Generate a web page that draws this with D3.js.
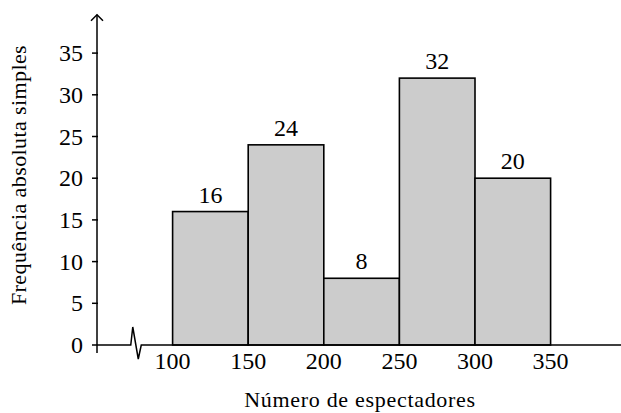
<!DOCTYPE html>
<html><head><meta charset="utf-8">
<script src="https://cdn.jsdelivr.net/npm/d3@7"></script>
<style>body{margin:0;background:#fff}svg{display:block}text{font-family:"Liberation Serif","Times New Roman",serif;fill:#000}</style>
</head><body><svg id="c" width="621" height="413"></svg>
<script>
const binStarts = [100, 150, 200, 250, 300];
const binEnds = [150, 200, 250, 300, 350];
const frequencies = [16, 24, 8, 32, 20];
const xTicks = [100, 150, 200, 250, 300, 350];
const yTicks = [0, 5, 10, 15, 20, 25, 30, 35];
const xTitle = "Número de espectadores";
const yTitle = "Frequência absoluta simples";

const svg = d3.select("#c");
const x = d3.scaleLinear().domain([50, 400]).range([97, 626.2]);
const y = d3.scaleLinear().domain([0, 40]).range([345, 11.4]);

// bars
svg.append("g").selectAll("rect").data(frequencies).join("rect")
  .attr("x", (d,i)=>x(binStarts[i]))
  .attr("y", d=>y(d))
  .attr("width", (d,i)=>x(binEnds[i])-x(binStarts[i]))
  .attr("height", d=>y(0)-y(d))
  .attr("fill", "#cccccc").attr("stroke", "#000").attr("stroke-width", 1.6);

// value labels
svg.append("g").selectAll("text").data(frequencies).join("text")
  .attr("x", (d,i)=>x((binStarts[i]+binEnds[i])/2))
  .attr("y", d=>y(d)-9)
  .attr("text-anchor","middle").attr("font-size", 24)
  .text(d=>d);

const ax = svg.append("g").attr("stroke","#000").attr("stroke-width",1.5).attr("fill","none");
// x axis with break
const xb = 72; // break position in data units
ax.append("path").attr("d", d3.line()([
  [x(50)-5, y(0)], [x(xb)+0.5, y(0)], [x(xb)+2.5, y(0)-18], [x(xb)+8, y(0)+14], [x(xb)+11, y(0)], [x(403), y(0)]
]));
// x arrow
ax.append("path").attr("d", d3.line()([[x(403)-6, y(0)-6],[x(403), y(0)],[x(403)-6, y(0)+6]]));
// y axis
ax.append("path").attr("d", d3.line()([[x(50), y(0)+8],[x(50), y(39.6)]]));
ax.append("path").attr("d", d3.line()([[x(50)-6, y(39.6)+6],[x(50), y(39.6)],[x(50)+6, y(39.6)+6]]));
// y ticks
ax.selectAll("line").data(yTicks.filter(d=>d>0)).join("line")
  .attr("x1", x(50)-5).attr("x2", x(50)+1).attr("y1", d=>y(d)).attr("y2", d=>y(d));

// y tick labels
svg.append("g").selectAll("text").data(yTicks).join("text")
  .attr("x", 83).attr("y", d=>y(d)+8)
  .attr("text-anchor","end").attr("font-size", 24).text(d=>d);

// x tick labels
svg.append("g").selectAll("text").data(xTicks).join("text")
  .attr("x", d=>x(d)).attr("y", 369)
  .attr("text-anchor","middle").attr("font-size", 24).text(d=>d);

// titles
svg.append("text").attr("x", 360).attr("y", 407).attr("text-anchor","middle").attr("font-size", 22).attr("letter-spacing", 0.7).text(xTitle);
svg.append("text").attr("transform","translate(26,175) rotate(-90)").attr("text-anchor","middle").attr("font-size", 22).attr("letter-spacing", 0.4).text(yTitle);
</script></body></html>
